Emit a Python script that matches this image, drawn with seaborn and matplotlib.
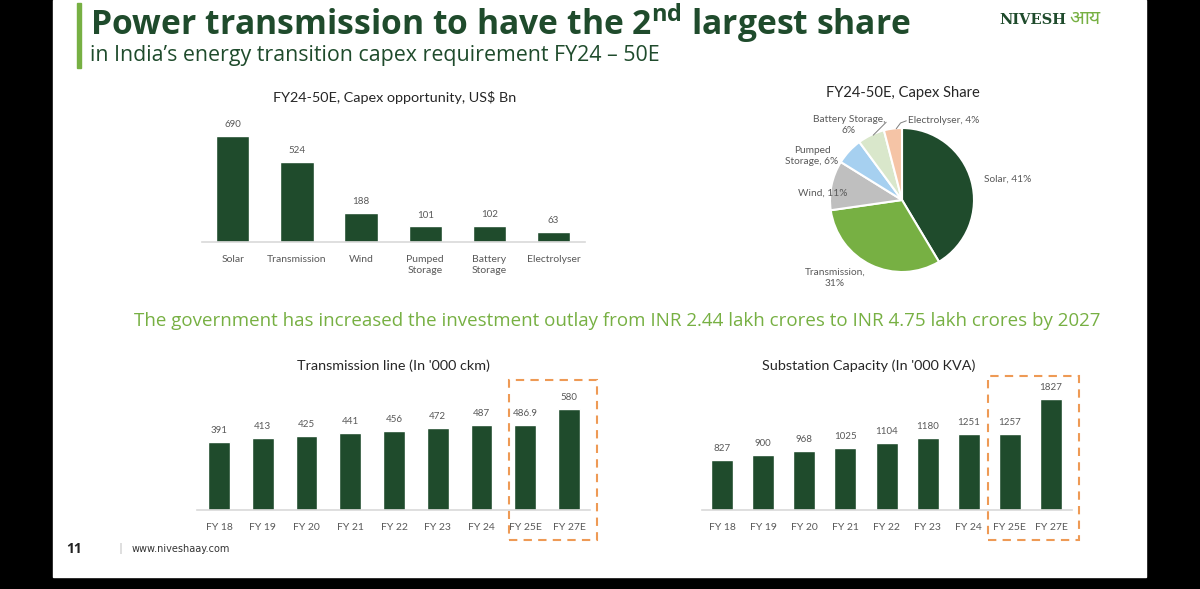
import matplotlib
matplotlib.use("Agg")
import matplotlib.pyplot as plt
import matplotlib.transforms as mtransforms
from matplotlib.patches import Rectangle
import pandas as pd
import seaborn as sns

# Data
capex_cats = ["Solar", "Transmission", "Wind", "Pumped\nStorage", "Battery\nStorage", "Electrolyser"]
capex_vals = [690, 524, 188, 101, 102, 63]

share_labels = ["Solar, 41%", "Transmission,\n31%", "Wind, 11%", "Pumped\nStorage, 6%",
                "Battery Storage,\n6%", "Electrolyser, 4%"]
share_vals = [41, 31, 11, 6, 6, 4]

years = ["FY 18", "FY 19", "FY 20", "FY 21", "FY 22", "FY 23", "FY 24", "FY 25E", "FY 27E"]
line_vals = [391, 413, 425, 441, 456, 472, 487, 486.9, 580]
line_text = ["391", "413", "425", "441", "456", "472", "487", "486.9", "580"]
sub_vals = [827, 900, 968, 1025, 1104, 1180, 1251, 1257, 1827]

DARK = "#1f4b2c"
LIGHT = "#77b043"
GREY_TXT = "#595959"
ORANGE = "#ee9a55"
pie_colors = [DARK, LIGHT, "#bfbfbf", "#a6d0f0", "#d9e7cb", "#f5c4a6"]

sns.set_theme(style="white")
plt.rcParams["font.family"] = ["Open Sans", "DejaVu Sans"]

W, H = 1200, 589
fig = plt.figure(figsize=(12, 5.89), dpi=100, facecolor="black")


def box(x0, y0, x1, y1):
    # pixel box (top-left origin) -> figure fraction rect
    return [x0 / W, 1 - y1 / H, (x1 - x0) / W, (y1 - y0) / H]


def fx(x):
    return x / W


def fy(y):
    return 1 - y / H


# white slide
fig.patches.append(Rectangle((fx(53), fy(577)), fx(1146) - fx(53), fy(0) - fy(577),
                             transform=fig.transFigure, color="white", zorder=-10))
fig.patches.append(Rectangle((fx(77), fy(68)), fx(81) - fx(77), fy(3) - fy(68),
                             transform=fig.transFigure, color=LIGHT, zorder=-5))

fig.text(fx(90), fy(23), "Power transmission to have the 2$^{\\mathregular{nd}}$ largest share",
         fontsize=24.2, fontweight="bold", color=DARK, va="center", ha="left")
fig.text(fx(90), fy(55), "in India\u2019s energy transition capex requirement FY24 \u2013 50E",
         fontsize=15.4, color=DARK, va="center", ha="left")
fig.text(fx(1066), fy(20), "NIVESH", fontsize=10.5, fontweight="bold", color=DARK,
         va="center", ha="right", family=["DejaVu Serif"])
fig.text(fx(1069), fy(19), "\u0906\u092f", fontsize=14, color=LIGHT,
         va="center", ha="left", family=["Noto Sans", "DejaVu Sans"])

fig.text(fx(617), fy(321),
         "The government has increased the investment outlay from INR 2.44 lakh crores to INR 4.75 lakh crores by 2027",
         fontsize=13.5, color=LIGHT, va="center", ha="center")

fig.text(fx(66), fy(549), "11", fontsize=10, fontweight="bold", color="#222222", va="center")
fig.text(fx(117), fy(549), "|", fontsize=8, color="#aaaaaa", va="center")
fig.text(fx(132), fy(549), "www.niveshaay.com", fontsize=7, color="#333333", va="center",
         family=["DejaVu Sans"])


def bar_chart(rect, cats, vals, texts, ylim, xlim, width, title, title_x, title_y, pad):
    ax = fig.add_axes(rect)
    df = pd.DataFrame({"cat": cats, "val": vals})
    sns.barplot(data=df, x="cat", y="val", color=DARK, width=width, saturation=1, ax=ax)
    ax.set_xlim(*xlim)
    ax.set_ylim(*ylim)
    ax.set_facecolor("none")
    for s in ["top", "right", "left"]:
        ax.spines[s].set_visible(False)
    ax.spines["bottom"].set_color("#d9d9d9")
    ax.spines["bottom"].set_linewidth(1.2)
    ax.set_yticks([])
    ax.set_xlabel("")
    ax.set_ylabel("")
    ax.tick_params(axis="x", length=0, pad=pad, labelsize=7.5, labelcolor=GREY_TXT)
    for lab in ax.get_xticklabels():
        lab.set_family(["Lato", "DejaVu Sans"])
        lab.set_linespacing(1.3)
        lab.set_va("top")
    for i, (v, t) in enumerate(zip(vals, texts)):
        ax.annotate(t, (i, v), xytext=(0, 5), textcoords="offset points",
                    ha="center", va="bottom", fontsize=7, color=GREY_TXT,
                    family=["Lato", "DejaVu Sans"])
    fig.text(fx(title_x), fy(title_y), title, ha="center", va="center", fontsize=10.4,
             color="#262626", family=["Lato", "DejaVu Sans"])
    return ax


# top-left capex bar chart
bar_chart(box(202, 118, 585, 242), capex_cats, capex_vals, [str(v) for v in capex_vals],
          (0, 690 * 124 / 106), (-0.48, 5.49), 0.52,
          "FY24-50E, Capex opportunity, US$ Bn", 395, 98, 9)

# pie chart
axp = fig.add_axes(box(830, 128, 974, 272))
axp.pie(share_vals, colors=pie_colors, startangle=90, counterclock=False,
        wedgeprops=dict(edgecolor="white", linewidth=1.5))
axp.set_xlim(-1, 1)
axp.set_ylim(-1, 1)
axp.set_aspect("equal")
lab_pos = [(1.14, 0.29, "left"), (-0.93, -1.08, "center"), (-1.1, 0.1, "center"),
           (-1.25, 0.61, "center"), (-0.74, 1.04, "center"), (0.09, 1.11, "left")]
for (x, y, ha), t in zip(lab_pos, share_labels):
    axp.text(x, y, t, ha=ha, va="center", fontsize=7.3, color=GREY_TXT, linespacing=1.25,
             family=["Lato", "DejaVu Sans"])
axp.plot([-0.40, -0.22], [0.90, 1.08], color="#7f7f7f", lw=0.7, clip_on=False)
axp.plot([-0.08, -0.02, 0.06], [0.99, 1.07, 1.1], color="#7f7f7f", lw=0.7, clip_on=False)
fig.text(fx(903), fy(93), "FY24-50E, Capex Share", ha="center", va="center", fontsize=10.6,
         color="#262626", family=["Lato", "DejaVu Sans"])

# bottom-left transmission line
ax1 = bar_chart(box(197, 388, 590, 510), years, line_vals, line_text,
                (0, 580 * 122 / 101), (-0.503, 8.48), 0.5,
                "Transmission line (In '000 ckm)", 393, 366, 9)
# bottom-right substation
ax2 = bar_chart(box(702, 388, 1072, 510), years, sub_vals, [str(v) for v in sub_vals],
                (0, 1827 * 122 / 111), (-0.487, 8.51), 0.535,
                "Substation Capacity (In '000 KVA)", 869, 366, 9)

# dashed highlight boxes around estimates
for ax, x0, x1, ytop in [(ax1, 6.63, 8.64, 380), (ax2, 6.47, 8.69, 376)]:
    tr = mtransforms.blended_transform_factory(ax.transData, fig.transFigure)
    ax.add_patch(Rectangle((x0, fy(540)), x1 - x0, fy(ytop) - fy(540), transform=tr,
                           fill=False, edgecolor=ORANGE, linestyle=(0, (4, 3)), lw=1.5,
                           clip_on=False))

fig.savefig("out.png", dpi=100, facecolor="black")
